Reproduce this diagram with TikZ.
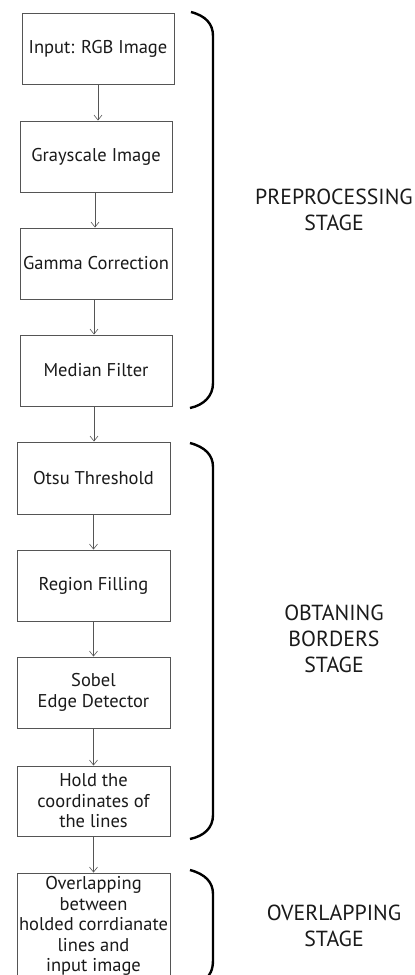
\documentclass[tikz,border=0pt]{standalone}
\usepackage{fontspec}
\setmainfont{PT Sans}
\usetikzlibrary{arrows.meta}
\definecolor{boxline}{HTML}{555555}
\definecolor{txt}{HTML}{1A1A1A}
\tikzset{
  stepbox/.style={draw=boxline, line width=0.9pt, text=txt, align=center,
    inner sep=0pt, font=\fontsize{18.5}{20.6}\selectfont},
  flow/.style={draw=boxline, line width=0.8pt, -{Straight Barb[length=5pt,width=8pt,line width=0.6pt]}},
  bracestyle/.style={draw=black, line width=2.4pt},
  stagelabel/.style={align=center, text=txt, font=\fontsize{21.8}{26}\selectfont}
}
\begin{document}
\begin{tikzpicture}[x=1pt,y=-1pt]
\useasboundingbox (0,0) rectangle (415,975);
\fill[white] (0,0) rectangle (415,975);
\node[stepbox, minimum width=152pt, minimum height=71pt] (b1) at (98,48.5) {Input: RGB Image};
\node[stepbox, minimum width=152pt, minimum height=71pt] (b2) at (96,156.5) {Grayscale Image};
\node[stepbox, minimum width=152pt, minimum height=71pt] (b3) at (96,263.5) {Gamma Correction};
\node[stepbox, minimum width=152pt, minimum height=71pt] (b4) at (96,370.5) {Median Filter};
\node[stepbox, minimum width=153pt, minimum height=72pt] (b5) at (93.5,478) {Otsu Threshold};
\node[stepbox, minimum width=153pt, minimum height=71pt] (b6) at (93.5,585.5) {Region Filling};
\node[stepbox, minimum width=153pt, minimum height=71pt] (b7) at (93.5,692.5) {Sobel\\Edge Detector};
\node[stepbox, minimum width=153pt, minimum height=70pt] (b8) at (93.5,801) {Hold the\\coordinates of\\the lines};
\node[stepbox, minimum width=153pt, minimum height=106pt] (b9) at (93.5,926) {Overlapping\\between\\holded corrdianate\\lines and\\input image};
\draw[flow] (b1.south) -- (b1.south |- b2.north);
\draw[flow] ([xshift=-1pt]b2.south) -- ([xshift=-1pt]b2.south |- b3.north);
\draw[flow] ([xshift=-2pt]b3.south) -- ([xshift=-2pt]b3.south |- b4.north);
\draw[flow] ([xshift=-2pt]b4.south) -- ([xshift=-2pt]b4.south |- b5.north);
\draw[flow] (b5.south) -- (b5.south |- b6.north);
\draw[flow] (b6.south) -- (b6.south |- b7.north);
\draw[flow] (b7.south) -- (b7.south |- b8.north);
\draw[flow] (b8.south) -- (b8.south |- b9.north);
\coordinate (p1t) at (191,12);
\coordinate (p1b) at (190,408);
\draw[bracestyle] (p1t) .. controls (206,16) and (213,24) .. (213,36) -- (213,383) .. controls (213,396) and (204,405) .. (p1b);
\coordinate (p2t) at (190,443);
\coordinate (p2b) at (190,839);
\draw[bracestyle] (p2t) .. controls (205,447) and (213,455) .. (213,467) -- (213,815) .. controls (213,828) and (204,836) .. (p2b);
\coordinate (p3t) at (190,870);
\draw[bracestyle] (p3t) .. controls (205,874) and (213,882) .. (213,894) -- (213,960) .. controls (213,970) and (210,975) .. (205,980);
\node[stagelabel] (l1) at (334,210) {PREPROCESSING\\STAGE};
\node[stagelabel] (l2) at (334,639) {OBTANING\\BORDERS\\STAGE};
\node[stagelabel] (l3) at (334,926) {OVERLAPPING\\STAGE};
\end{tikzpicture}
\end{document}
